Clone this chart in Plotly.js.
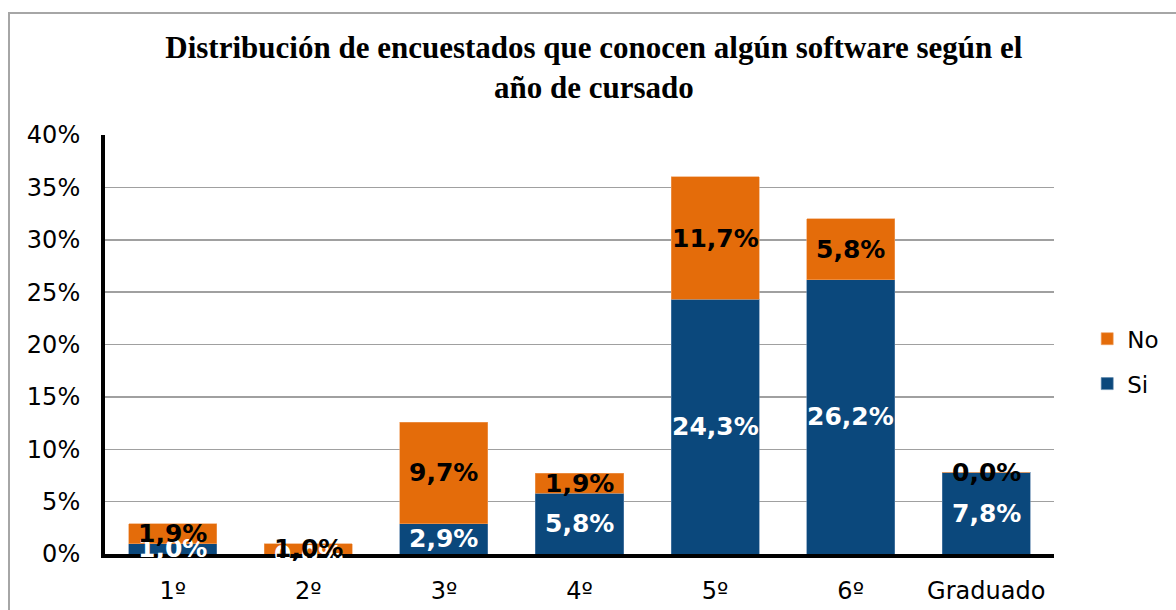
<!DOCTYPE html>
<html>
<head>
<meta charset="utf-8">
<script src="https://cdn.plot.ly/plotly-3.0.1.min.js"></script>
<style>
  html, body { margin: 0; padding: 0; background: #fff; overflow: hidden; }
  #chart { position: absolute; left: 0; top: 0; width: 1176px; height: 610px; }
  #marco { position: absolute; left: 8px; top: 12px; width: 1300px; height: 700px;
           border: 2px solid #a6a6a6; pointer-events: none; }
</style>
</head>
<body>
<div id="chart"></div>
<div id="marco"></div>
<script>
// Datos (porcentaje de encuestados)
const anios = ["1º", "2º", "3º", "4º", "5º", "6º", "Graduado"];
const si = [1.0, 0.0, 2.9, 5.8, 24.3, 26.2, 7.8];
const no = [1.9, 1.0, 9.7, 1.9, 11.7, 5.8, 0.0];
const ejeY = [0, 5, 10, 15, 20, 25, 30, 35, 40];

const AZUL = "#0b487c";
const NARANJA = "#e46c0a";
const fmt = (v) => v.toFixed(1).replace(".", ",") + "%";

const traces = [
  {
    type: "bar", name: "Si", x: anios, y: si,
    marker: { color: AZUL, line: { color: "#5d86ad", width: 0.6 } },
    legendgroup: "si", legendrank: 2, hoverinfo: "skip",
  },
  {
    type: "bar", name: "No", x: anios, y: no,
    marker: { color: NARANJA, line: { color: "#f0a060", width: 0.6 } },
    legendgroup: "no", legendrank: 1, hoverinfo: "skip",
  },
];

// etiquetas centradas en cada segmento
const etiquetas = [];
anios.forEach((a, i) => {
  etiquetas.push({
    x: a, y: si[i] / 2, xref: "x", yref: "y", text: fmt(si[i]), showarrow: false,
    font: { family: "DejaVu Sans", size: 25, color: "#ffffff", weight: "bold" },
  });
});
anios.forEach((a, i) => {
  etiquetas.push({
    x: a, y: si[i] + no[i] / 2, xref: "x", yref: "y", text: fmt(no[i]), showarrow: false,
    font: { family: "DejaVu Sans", size: 25, color: "#000000", weight: "bold" },
  });
});

Plotly.newPlot("chart", traces, {
  width: 1176, height: 610,
  barmode: "stack", bargap: 0.35,
  paper_bgcolor: "#ffffff", plot_bgcolor: "#ffffff",
  margin: { l: 105, r: 115, t: 135, b: 56 },
  font: { family: "DejaVu Sans", size: 24, color: "#000" },
  title: {
    text: "<b>Distribución de encuestados que conocen algún software según el<br>año de cursado</b>",
    font: { family: "Liberation Serif", size: 31, color: "#000" },
    x: 0.505, xanchor: "center", y: 0.905, yanchor: "middle",
  },
  xaxis: {
    showline: true, linecolor: "#000", linewidth: 4,
    ticks: "", ticklabelstandoff: 12,
    tickfont: { size: 24 },
  },
  yaxis: {
    range: [0, 40], tickmode: "array", tickvals: ejeY, ticktext: ejeY.map((v) => v + "%"),
    showgrid: true, gridcolor: "#a0a0a0", gridwidth: 1.5,
    showline: true, linecolor: "#000", linewidth: 4,
    zeroline: false, ticks: "", ticklabelstandoff: 16,
    tickfont: { size: 24 },
  },
  legend: {
    x: 1.035, xanchor: "left", y: 0.46, yanchor: "middle",
    traceorder: "grouped", tracegroupgap: 12,
    font: { size: 23 }, bgcolor: "rgba(0,0,0,0)",
  },
  annotations: etiquetas,
}, { displayModeBar: false, staticPlot: true });
</script>
</body>
</html>
